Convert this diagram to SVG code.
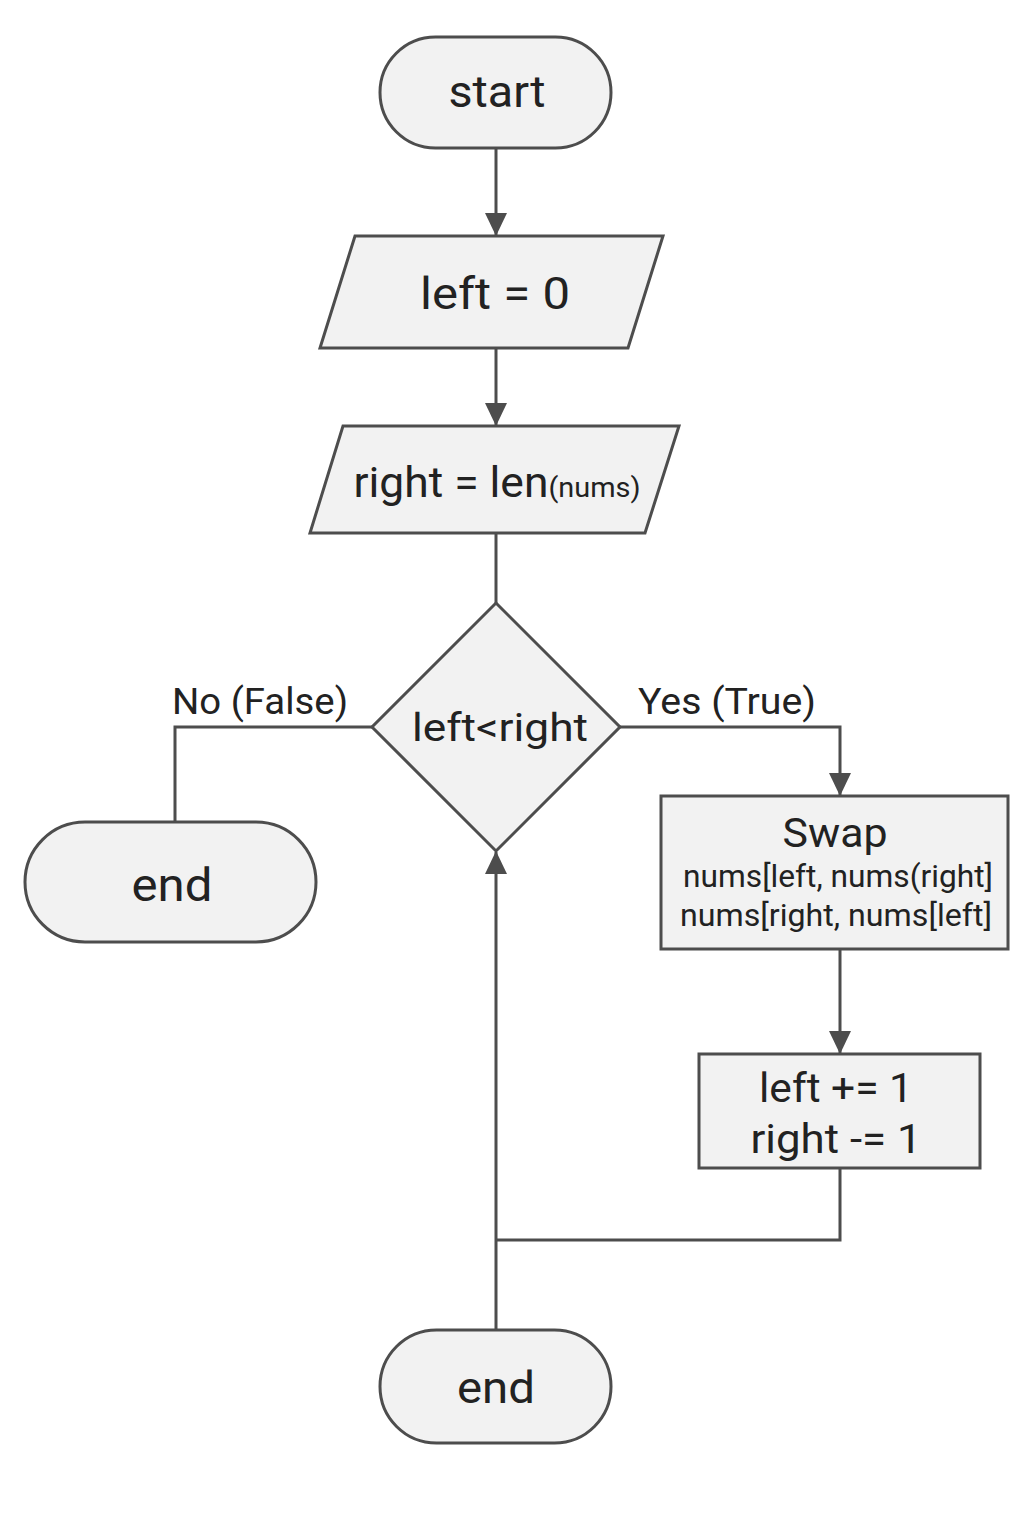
<svg xmlns="http://www.w3.org/2000/svg" width="1024" height="1536" viewBox="0 0 1024 1536">
<defs>
<style>
.n{fill:#f2f2f2;stroke:#4d4d4d;stroke-width:3}
.c{fill:none;stroke:#4d4d4d;stroke-width:3}
text{font-family:Roboto,"Liberation Sans",sans-serif;fill:#222;text-anchor:middle}
</style>
<marker id="ah" markerWidth="24" markerHeight="24" viewBox="0 0 24 24" refX="22" refY="12" orient="auto" markerUnits="userSpaceOnUse">
<path d="M0,1 L23,12 L0,23 Z" fill="#4d4d4d"/>
</marker>
</defs>
<rect width="1024" height="1536" fill="#fff"/>
<g id="connectors">
<path class="c" d="M496,148 V235" marker-end="url(#ah)"/>
<path class="c" d="M496,348 V425" marker-end="url(#ah)"/>
<path class="c" d="M496,533 V603"/>
<path class="c" d="M372,727 H175 V822"/>
<path class="c" d="M620,727 H840 V795" marker-end="url(#ah)"/>
<path class="c" d="M840,949 V1053" marker-end="url(#ah)"/>
<path class="c" d="M840,1168 V1240 H496"/>
<path class="c" d="M496,1330 V852" marker-end="url(#ah)"/>
<text x="260" y="714" font-size="37" textLength="176" lengthAdjust="spacingAndGlyphs">No (False)</text>
<text x="727" y="714" font-size="37" textLength="178" lengthAdjust="spacingAndGlyphs">Yes (True)</text>
</g>
<g id="start">
<rect class="n" x="380" y="37" width="231" height="111" rx="55.5"/>
<text x="497" y="107" font-size="44" textLength="97" lengthAdjust="spacingAndGlyphs">start</text>
</g>
<g id="left0">
<polygon class="n" points="355,236 663,236 628,348 320,348"/>
<text x="495" y="309" font-size="45" textLength="150" lengthAdjust="spacingAndGlyphs">left = 0</text>
</g>
<g id="rightlen">
<polygon class="n" points="343,426 679,426 645,533 310,533"/>
<text x="497" y="497" font-size="43" textLength="287" lengthAdjust="spacingAndGlyphs">right = len<tspan font-size="28">(nums)</tspan></text>
</g>
<g id="cond">
<polygon class="n" points="496,603 620,727 496,851 372,727"/>
<text x="500" y="741" font-size="39" textLength="176" lengthAdjust="spacingAndGlyphs">left&lt;right</text>
</g>
<g id="endleft">
<rect class="n" x="25" y="822" width="291" height="120" rx="60"/>
<text x="172" y="901" font-size="46" textLength="81" lengthAdjust="spacingAndGlyphs">end</text>
</g>
<g id="swap">
<rect class="n" x="661" y="796" width="347" height="153"/>
<text x="835" y="847" font-size="40" textLength="105" lengthAdjust="spacingAndGlyphs">Swap</text>
<text x="838" y="887" font-size="31" textLength="310" lengthAdjust="spacingAndGlyphs">nums[left, nums(right]</text>
<text x="836" y="926" font-size="31" textLength="312" lengthAdjust="spacingAndGlyphs">nums[right, nums[left]</text>
</g>
<g id="incdec">
<rect class="n" x="699" y="1054" width="281" height="114"/>
<text x="836" y="1102" font-size="41" textLength="154" lengthAdjust="spacingAndGlyphs">left += 1</text>
<text x="836" y="1153" font-size="41" textLength="171" lengthAdjust="spacingAndGlyphs">right -= 1</text>
</g>
<g id="endbottom">
<rect class="n" x="380" y="1330" width="231" height="113" rx="56.5"/>
<text x="496" y="1403" font-size="45" textLength="78" lengthAdjust="spacingAndGlyphs">end</text>
</g>
</svg>
